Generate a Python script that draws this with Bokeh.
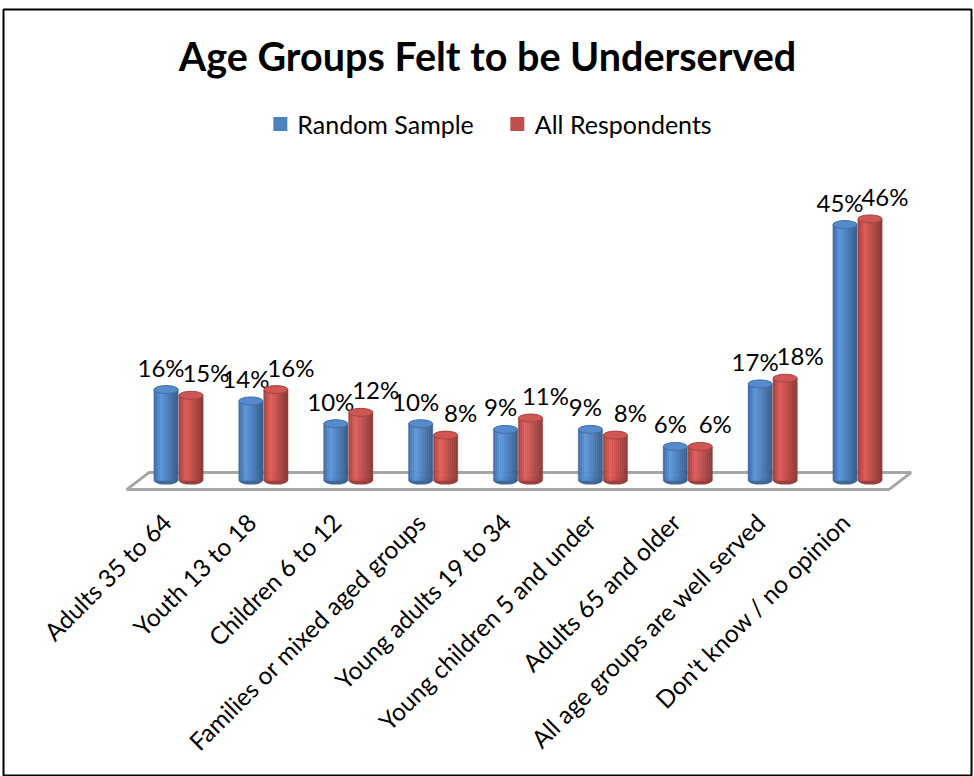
import math
from bokeh.plotting import figure
from bokeh.models import ColumnDataSource, Range1d, Label, Legend, LegendItem
from bokeh.embed import file_html
from bokeh.resources import INLINE
from bokeh.core.properties import value

# ---------------- data ----------------
categories = [
    "Adults 35 to 64",
    "Youth 13 to 18",
    "Children 6 to 12",
    "Families or mixed aged groups",
    "Young adults 19 to 34",
    "Young children 5 and under",
    "Adults 65 and older",
    "All age groups are well served",
    "Don't know / no opinion",
]
random_sample = [16, 14, 10, 10, 9, 9, 6, 17, 45]
all_respondents = [15, 16, 12, 8, 11, 8, 6, 18, 46]
series_names = ["Random Sample", "All Respondents"]
title_text = "Age Groups Felt to be Underserved"

# ---------------- style ----------------
FONT = "Lato"
BASE_COLORS = [(79, 129, 189), (192, 80, 77)]
W, H = 974, 776

n = len(categories)
p = figure(
    width=W, height=H, output_backend="svg", toolbar_location=None,
    x_range=Range1d(-2.062, 9.343), y_range=Range1d(-52.0, 82.8),
    x_axis_location=None, y_axis_location=None,
    min_border_left=3, min_border_right=3, min_border_top=9, min_border_bottom=0,
)
p.grid.visible = False
p.outline_line_color = "black"
p.outline_line_width = 2
p.background_fill_color = "white"
p.border_fill_color = "white"

# floor
fl, fr, skew, fy0, fy1 = -0.61, (n - 1) + 0.37, 0.26, -1.58, 1.41
p.patch([fl, fr, fr + skew, fl + skew], [fy0, fy0, fy1, fy1],
        fill_color="white", line_color="#a6a6a6", line_width=3)


def shade(rgb, f):
    return "#%02x%02x%02x" % tuple(max(0, min(255, int(round(c * f)))) for c in rgb)


# cylinder shading profile (position across bar -> brightness factor)
NS = 12
prof_pos = [0.0, 0.3, 1.0]
prof_val = [0.82, 1.18, 0.72]


def profile(t):
    for i in range(len(prof_pos) - 1):
        if prof_pos[i] <= t <= prof_pos[i + 1]:
            u = (t - prof_pos[i]) / (prof_pos[i + 1] - prof_pos[i])
            return prof_val[i] + u * (prof_val[i + 1] - prof_val[i])
    return prof_val[-1]


bar_w = 0.285
offsets = [-0.147, 0.147]
label_dx = [-5, 15]
legend_items = []
strip_w = bar_w / NS
nan = float("nan")

for s, (vals, name) in enumerate(zip([random_sample, all_respondents], series_names)):
    base = BASE_COLORS[s]
    xs_c = [i + offsets[s] for i in range(n)]
    # bottom ellipse
    p.ellipse(x=xs_c, y=[0] * n, width=24, height=8, width_units="screen",
              height_units="screen", fill_color=shade(base, 0.8), line_color=None)
    # shaded strips
    sx, st, sc = [], [], []
    for i in range(n):
        for k in range(NS):
            t = (k + 0.5) / NS
            sx.append(xs_c[i] - bar_w / 2 + (k + 0.5) * strip_w)
            st.append(vals[i])
            sc.append(shade(base, profile(t)))
    src = ColumnDataSource(dict(x=sx, top=st, color=sc))
    p.vbar(x="x", top="top", bottom=0, width=strip_w * 1.08, source=src,
           fill_color="color", line_color="color", line_width=0.4)
    # top ellipse
    p.ellipse(x=xs_c, y=vals, width=24, height=8, width_units="screen",
              height_units="screen", fill_color=shade(base, 1.08),
              line_color=shade(base, 0.85), line_width=1)
    # data labels
    p.text(x=xs_c, y=vals, text=[f"{v}%" for v in vals], text_align="center",
           text_baseline="bottom", x_offset=label_dx[s], y_offset=-8,
           text_font=value(FONT), text_font_size="24px", text_color="black")
    # legend proxy (nothing drawn in the plot area)
    lr = p.scatter(x=[nan], y=[nan], marker="square", size=14,
                   fill_color=shade(base, 1.0), line_color=None)
    legend_items.append(LegendItem(label=name, renderers=[lr]))

# category labels
p.text(x=list(range(n)), y=[0] * n, text=categories, angle=math.pi / 4,
       text_align="right", text_baseline="middle", x_offset=-12, y_offset=37,
       text_font=value(FONT), text_font_size="24.5px", text_color="black")

# title
p.add_layout(Label(x=(p.x_range.start + p.x_range.end) / 2, y=721, y_units="screen",
                   text=title_text, text_align="center", text_baseline="middle",
                   text_font=FONT, text_font_size="39.5px", text_font_style="bold",
                   text_color="black"))

legend = Legend(items=legend_items, orientation="horizontal", location="top_center",
                margin=97, padding=0, spacing=26, label_standoff=-2,
                glyph_width=35, glyph_height=35,
                label_text_font=FONT, label_text_font_size="25px",
                label_text_color="black",
                background_fill_alpha=0, border_line_color=None)
p.add_layout(legend, "center")

open("out.html", "w").write(file_html(p, INLINE))
